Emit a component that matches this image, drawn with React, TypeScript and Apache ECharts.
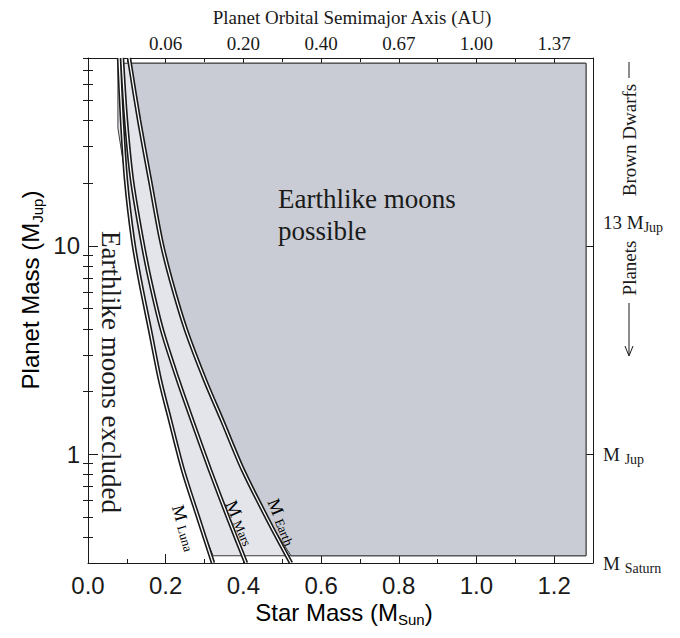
import React, { useEffect, useRef } from "react";
import * as echarts from "echarts";

// ---- axis ticks / labels ----
const xMajorTicks = [0, 0.2, 0.4, 0.6, 0.8, 1.0, 1.2];
const xMinorTicks = [0.1, 0.3, 0.5, 0.7, 0.9, 1.1];
const topAxisLabels = ["", "0.06", "0.20", "0.40", "0.67", "1.00", "1.37"];
const yMajorTicks = [1, 10];
const yMinorTicks = [0.4, 0.5, 0.6, 0.7, 0.8, 0.9, 2, 3, 4, 5, 6, 7, 8, 9, 20, 30, 40, 50, 60, 70, 80];
const rightLabelValues = [0.3, 1, 13];

// ---- limiting curves (star mass in M_Sun, planet mass in M_Jup) ----
const curveY = [80, 40.3, 20.7, 10.7, 6.86, 3.95, 2.27, 1.46, 0.839, 0.483, 0.3];
const lunaX = [0.08, 0.0875, 0.0978, 0.1158, 0.1338, 0.1596, 0.1853, 0.2111, 0.2445, 0.2857, 0.3218];
const marsX = [0.0875, 0.0978, 0.1133, 0.139, 0.1596, 0.1905, 0.2317, 0.2677, 0.314, 0.3629, 0.4067];
const earthX = [0.1055, 0.1313, 0.1596, 0.1879, 0.2136, 0.2523, 0.3012, 0.3449, 0.399, 0.4633, 0.5225];

// shaded region bounds
const shadeTop = 75.5;
const shadeBottom = 0.325;
const shadeRight = 1.282;
const shadeLeftX = 0.077;
const shadeStepY = 36.8;

const X_MIN = 0;
const X_MAX = 1.3;
const Y_MIN = 0.3;
const Y_MAX = 80;

const DARK = "#c9ccd4";
const LIGHT = "#e3e5ea";
const INK = "#1a1a1a";
const SANS = "Liberation Sans, Arial, sans-serif";
const SERIF = "Liberation Serif, Times New Roman, serif";

const zip = (xs: number[], ys: number[]) => xs.map((x, i) => [x, ys[i]]);
const clampY = (p: number[]) => [p[0], Math.min(shadeTop, Math.max(shadeBottom, p[1]))];

export default function App() {
  const ref = useRef<HTMLDivElement>(null);
  useEffect(() => {
    document.body.style.margin = "0";
    const chart = echarts.init(ref.current!, null, { renderer: "svg" });

    const luna = zip(lunaX, curveY);
    const mars = zip(marsX, curveY);
    const earth = zip(earthX, curveY);

    const baseX = {
      type: "value" as const,
      min: X_MIN,
      max: X_MAX,
      interval: 0.2,
      splitLine: { show: false },
    };
    const baseY = {
      type: "log" as const,
      min: Y_MIN,
      max: Y_MAX,
      logBase: 10,
      splitLine: { show: false },
    };

    const subRich = (size: number, sub: number, pad: number, family: string) => ({
      m: { fontSize: size, fontFamily: family, color: INK },
      s: { fontSize: sub, fontFamily: family, color: INK, padding: [pad, 0, 0, 0] },
    });

    const curveSeries = (data: number[][]) => [
      {
        type: "line",
        data,
        xAxisIndex: 0,
        yAxisIndex: 0,
        symbol: "none",
        smooth: 0.3,
        z: 3,
        lineStyle: { color: INK, width: 4.5 },
        silent: true,
      },
      {
        type: "line",
        data,
        xAxisIndex: 0,
        yAxisIndex: 0,
        symbol: "none",
        smooth: 0.3,
        z: 4,
        lineStyle: { color: "#ffffff", width: 1.3 },
        silent: true,
      },
    ];

    const option: any = {
      animation: false,
      grid: { left: 88, right: 87, top: 58, bottom: 75, containLabel: false, outerBoundsMode: "none" },
      xAxis: [
        {
          ...baseX,
          position: "bottom",
          axisLine: { show: true, onZero: false, lineStyle: { color: INK, width: 1 } },
          axisTick: { show: true, inside: true, length: 9, customValues: xMajorTicks, lineStyle: { color: INK } },
          axisLabel: {
            customValues: xMajorTicks,
            formatter: (v: number) => v.toFixed(1),
            fontSize: 24,
            fontFamily: SANS,
            color: INK,
            margin: 10,
          },
        },
        {
          ...baseX,
          position: "bottom",
          axisLine: { show: false },
          axisTick: { show: true, inside: true, length: 4, customValues: xMinorTicks, lineStyle: { color: INK } },
          axisLabel: { show: false },
        },
        {
          ...baseX,
          position: "top",
          axisLine: { show: true, onZero: false, lineStyle: { color: INK, width: 1 } },
          axisTick: { show: true, inside: true, length: 8, customValues: xMajorTicks, lineStyle: { color: INK } },
          axisLabel: {
            customValues: xMajorTicks,
            formatter: (v: number) => topAxisLabels[Math.round(v / 0.2)] ?? "",
            fontSize: 19,
            fontFamily: SERIF,
            color: INK,
            margin: 5,
          },
        },
        {
          ...baseX,
          position: "top",
          axisLine: { show: false },
          axisTick: { show: true, inside: true, length: 4, customValues: xMinorTicks, lineStyle: { color: INK } },
          axisLabel: { show: false },
        },
      ],
      yAxis: [
        {
          ...baseY,
          position: "left",
          axisLine: { show: true, onZero: false, lineStyle: { color: INK, width: 1 } },
          axisTick: { show: true, inside: true, length: 10, customValues: yMajorTicks, lineStyle: { color: INK } },
          axisLabel: {
            customValues: yMajorTicks,
            formatter: (v: number) => String(Math.round(v)),
            fontSize: 24,
            fontFamily: SANS,
            color: INK,
            margin: 8,
          },
        },
        {
          ...baseY,
          position: "left",
          axisLine: { show: false },
          axisTick: { show: true, inside: true, length: 5, customValues: yMinorTicks, lineStyle: { color: INK } },
          axisLabel: { show: false },
        },
        {
          ...baseY,
          position: "right",
          axisLine: { show: true, onZero: false, lineStyle: { color: INK, width: 1 } },
          axisTick: { show: true, inside: true, length: 9, customValues: yMajorTicks, lineStyle: { color: INK } },
          axisLabel: {
            customValues: rightLabelValues,
            formatter: (v: number) => {
              if (v > 5) return "{m|13 M}{s|Jup}";
              if (v > 0.5) return "{m|M }{s|Jup}";
              return "{m|M }{s|Saturn}";
            },
            rich: subRich(19, 14, 10, SERIF),
            align: "left",
            margin: 10,
          },
        },
        {
          ...baseY,
          position: "right",
          axisLine: { show: false },
          axisTick: { show: true, inside: true, length: 5, customValues: yMinorTicks, lineStyle: { color: INK } },
          axisLabel: { show: false },
        },
      ],
      series: [
        {
          type: "custom",
          xAxisIndex: 0,
          yAxisIndex: 0,
          clip: false,
          silent: true,
          z: 1,
          data: [[0.5, 1]],
          renderItem: (_params: any, api: any) => {
            const lightPts = [
              [shadeLeftX, shadeTop],
              [shadeLeftX, shadeStepY],
              ...luna.filter((p) => p[1] <= shadeStepY).map(clampY),
              [shadeRight, shadeBottom],
              [shadeRight, shadeTop],
            ].map((p) => api.coord(p));
            const darkPts = [
              ...earth.map(clampY),
              [shadeRight, shadeBottom],
              [shadeRight, shadeTop],
            ].map((p) => api.coord(p));
            return {
              type: "group",
              children: [
                { type: "polygon", shape: { points: lightPts }, style: { fill: LIGHT, stroke: "#3a3a3a", lineWidth: 1 } },
                { type: "polygon", shape: { points: darkPts }, style: { fill: DARK, stroke: "#3a3a3a", lineWidth: 1 } },
              ],
            };
          },
        },
        ...curveSeries(luna),
        ...curveSeries(mars),
        ...curveSeries(earth),
      ],
      graphic: [
        {
          type: "text",
          z: 100,
          x: 352,
          y: 17,
          style: {
            text: "Planet Orbital Semimajor Axis (AU)",
            font: `19px ${SERIF}`,
            fill: INK,
            align: "center",
            verticalAlign: "middle",
          },
        },
        {
          type: "text",
          z: 100,
          x: 344,
          y: 612,
          style: {
            text: "{m|Star Mass (M}{s|Sun}{m|)}",
            rich: subRich(24, 15, 14, SANS),
            align: "center",
            verticalAlign: "middle",
          },
        },
        {
          type: "text",
          z: 100,
          x: 30,
          y: 290,
          rotation: Math.PI / 2,
          style: {
            text: "{m|Planet Mass (M}{s|Jup}{m|)}",
            rich: subRich(24, 15, 14, SANS),
            align: "center",
            verticalAlign: "middle",
          },
        },
        {
          type: "text",
          z: 100,
          x: 278,
          y: 183,
          style: {
            text: "Earthlike moons\npossible",
            font: `27px ${SERIF}`,
            lineHeight: 32,
            fill: INK,
            align: "left",
            verticalAlign: "top",
          },
        },
        {
          type: "text",
          z: 100,
          x: 111,
          y: 372,
          rotation: -Math.PI / 2,
          style: {
            text: "Earthlike moons excluded",
            font: `27px ${SERIF}`,
            fill: INK,
            align: "center",
            verticalAlign: "middle",
          },
        },
        {
          type: "text",
          z: 100,
          x: 629,
          y: 140,
          rotation: Math.PI / 2,
          style: { text: "Brown Dwarfs", font: `19px ${SERIF}`, fill: INK, align: "center", verticalAlign: "middle" },
        },
        { type: "line", z: 100, shape: { x1: 629, y1: 62, x2: 629, y2: 78 }, style: { stroke: INK, lineWidth: 1 } },
        {
          type: "text",
          z: 100,
          x: 629,
          y: 268,
          rotation: Math.PI / 2,
          style: { text: "Planets", font: `19px ${SERIF}`, fill: INK, align: "center", verticalAlign: "middle" },
        },
        { type: "line", z: 100, shape: { x1: 629, y1: 303, x2: 629, y2: 355 }, style: { stroke: INK, lineWidth: 1 } },
        {
          type: "polyline",
          z: 100,
          shape: { points: [[625, 346], [629, 356], [633, 346]] },
          style: { stroke: INK, lineWidth: 1, fill: null },
        },
        {
          type: "text",
          z: 100,
          x: 184,
          y: 528,
          rotation: (-74 * Math.PI) / 180,
          style: { text: "{m|M }{s|Luna}", rich: subRich(18, 13, 4, SERIF), align: "center", verticalAlign: "middle" },
        },
        {
          type: "text",
          z: 100,
          x: 240,
          y: 523,
          rotation: (-66 * Math.PI) / 180,
          style: { text: "{m|M }{s|Mars}", rich: subRich(18, 13, 4, SERIF), align: "center", verticalAlign: "middle" },
        },
        {
          type: "text",
          z: 100,
          x: 282,
          y: 522,
          rotation: (-68 * Math.PI) / 180,
          style: { text: "{m|M }{s|Earth}", rich: subRich(18, 13, 4, SERIF), align: "center", verticalAlign: "middle" },
        },
      ],
    };

    chart.setOption(option);
    return () => chart.dispose();
  }, []);

  return <div ref={ref} style={{ width: 680, height: 638 }} />;
}
